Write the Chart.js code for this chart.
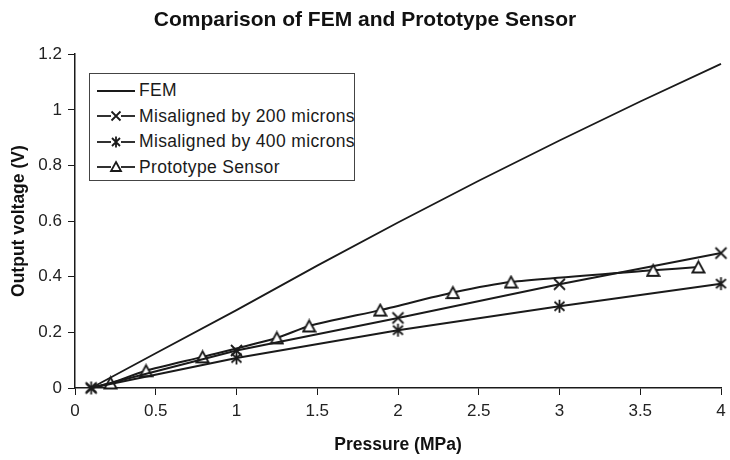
<!DOCTYPE html>
<html>
<head>
<meta charset="utf-8">
<script src="https://cdn.jsdelivr.net/npm/chart.js@4/dist/chart.umd.min.js"></script>
<style>
    body { margin: 0; background: #fff; }
    #wrap { position: relative; width: 730px; height: 460px; font-family: "Liberation Sans", Arial, sans-serif; }
    #legend {
        position: absolute; left: 89px; top: 73px; width: 264px; height: 102px;
        border: 1px solid #444; background: #fff; padding-top: 4px; box-sizing: content-box;
    }
    .row { display: flex; align-items: center; height: 25.5px; font-size: 17.5px; letter-spacing: 0.35px; color: #1a1a1a; white-space: nowrap; }
    .row svg { flex: none; margin-left: 7px; margin-right: 4px; }
</style>
</head>
<body>
<div id="wrap">
    <canvas id="chart" width="730" height="460"></canvas>
    <div id="legend"></div>
</div>
<script>
const femX = [0.1, 0.5, 1, 1.5, 2, 2.5, 3, 3.5, 4];
const femY = [0, 0.125, 0.28, 0.44, 0.595, 0.745, 0.89, 1.03, 1.165];

const mis200X = [0.1, 1, 2, 3, 4];
const mis200Y = [0, 0.135, 0.252, 0.373, 0.485];

const mis400X = [0.1, 1, 2, 3, 4];
const mis400Y = [0, 0.108, 0.208, 0.294, 0.375];

const protoX = [0.1, 0.22, 0.44, 0.79, 1.25, 1.45, 1.89, 2.34, 2.7, 3.58, 3.86];
const protoY = [0, 0.018, 0.062, 0.112, 0.18, 0.223, 0.28, 0.343, 0.381, 0.423, 0.435];

const seriesNames = ["FEM", "Misaligned by 200 microns", "Misaligned by 400 microns", "Prototype Sensor"];

const ink = "#1a1a1a";

function toPoints(xs, ys) {
    return xs.map((x, i) => ({ x, y: ys[i] }));
}

function makeMarker(draw) {
    const c = document.createElement("canvas");
    c.width = 15;
    c.height = 15;
    const g = c.getContext("2d");
    g.strokeStyle = ink;
    g.lineWidth = 1.8;
    g.fillStyle = "#fff";
    draw(g);
    return c;
}

const crossMarker = makeMarker((g) => {
    g.beginPath();
    g.moveTo(2, 2); g.lineTo(13, 13);
    g.moveTo(13, 2); g.lineTo(2, 13);
    g.stroke();
});

const starMarker = makeMarker((g) => {
    g.beginPath();
    g.moveTo(2.5, 3); g.lineTo(12.5, 12);
    g.moveTo(12.5, 3); g.lineTo(2.5, 12);
    g.moveTo(7.5, 1); g.lineTo(7.5, 14);
    g.stroke();
});

const triMarker = makeMarker((g) => {
    g.beginPath();
    g.moveTo(7.5, 2); g.lineTo(13.5, 13); g.lineTo(1.5, 13); g.closePath();
    g.fill();
    g.stroke();
});

const tickFont = { family: "Liberation Sans", size: 17 };
const titleFont = { family: "Liberation Sans", size: 17.5, weight: "bold" };

new Chart(document.getElementById("chart"), {
    type: "line",
    data: {
        datasets: [
            {
                label: seriesNames[0],
                data: toPoints(femX, femY),
                borderColor: ink,
                borderWidth: 1.8,
                pointRadius: 0,
                tension: 0,
                clip: false,
            },
            {
                label: seriesNames[1],
                data: toPoints(mis200X, mis200Y),
                borderColor: ink,
                borderWidth: 2,
                pointStyle: crossMarker,
                pointRadius: 7,
                tension: 0,
                clip: false,
            },
            {
                label: seriesNames[2],
                data: toPoints(mis400X, mis400Y),
                borderColor: ink,
                borderWidth: 2,
                pointStyle: starMarker,
                pointRadius: 7,
                tension: 0,
                clip: false,
            },
            {
                label: seriesNames[3],
                data: toPoints(protoX, protoY),
                borderColor: ink,
                borderWidth: 2,
                pointStyle: protoX.map((x, i) => (i === 0 ? false : triMarker)),
                pointRadius: protoX.map((x, i) => (i === 0 ? 0 : 7)),
                tension: 0.2,
                clip: false,
            },
        ],
    },
    options: {
        responsive: false,
        animation: false,
        layout: { padding: { left: 0, right: 0, top: 0, bottom: 0 } },
        plugins: {
            legend: { display: false },
            tooltip: { enabled: false },
            title: {
                display: true,
                text: "Comparison of FEM and Prototype Sensor",
                color: "#111",
                font: { family: "Liberation Sans", size: 21, weight: "bold" },
                padding: { top: 8, bottom: 21 },
            },
        },
        scales: {
            x: {
                type: "linear",
                min: 0,
                max: 4,
                ticks: {
                    stepSize: 0.5,
                    color: "#222",
                    font: tickFont,
                    padding: 6,
                    maxRotation: 0,
                    callback(value) {
                        return String(Number(value.toFixed(1)));
                    },
                },
                grid: { drawOnChartArea: false, color: ink, tickLength: 7 },
                border: { color: ink, width: 1.5 },
                title: {
                    display: true,
                    text: "Pressure (MPa)",
                    color: "#111",
                    font: titleFont,
                    padding: { top: 5 },
                },
                afterFit(scale) {
                    scale.height = 72;
                    scale.paddingRight = 5;
                },
            },
            y: {
                min: 0,
                max: 1.2,
                ticks: {
                    stepSize: 0.2,
                    color: "#222",
                    font: tickFont,
                    padding: 6,
                    callback(value) {
                        return String(Number(value.toFixed(1)));
                    },
                },
                grid: { drawOnChartArea: false, color: ink, tickLength: 7 },
                border: { color: ink, width: 1.5 },
                title: {
                    display: true,
                    text: "Output voltage (V)",
                    color: "#111",
                    font: titleFont,
                    padding: { top: 9, bottom: 0 },
                },
                afterFit(scale) {
                    scale.width = 75;
                },
            },
        },
    },
});

// legend drawn as html, symbols as small inline svg
const legendSymbols = [
    "",
    '<path d="M14.5 13.5 L23.5 22.5 M23.5 13.5 L14.5 22.5" />',
    '<path d="M15 14 L23 22 M23 14 L15 22 M19 12.5 L19 23.5" />',
    '<path d="M19 13 L24 22 L14 22 Z" fill="#fff" />',
];

document.getElementById("legend").innerHTML = seriesNames.map((name, i) => `
    <div class="row">
        <svg width="38" height="36" viewBox="0 0 38 36" stroke="${ink}" stroke-width="1.8" fill="none">
            <line x1="0" y1="18" x2="${i === 0 ? 38 : 14}" y2="18" />
            ${i === 0 ? "" : '<line x1="24" y1="18" x2="38" y2="18" />'}
            ${legendSymbols[i]}
        </svg>
        <span>${name}</span>
    </div>`).join("");
</script>
</body>
</html>
